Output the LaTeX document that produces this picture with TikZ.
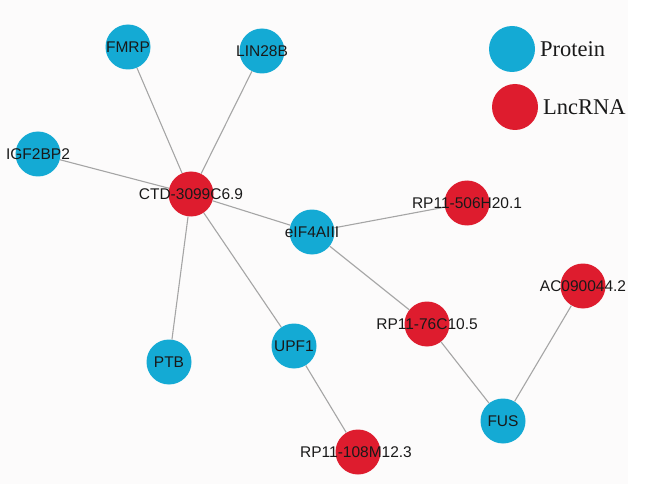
\documentclass[tikz,border=0pt]{standalone}
\usepackage{fontspec}
\setmainfont{Liberation Serif}
\setsansfont{Liberation Sans}
\begin{document}
\begin{tikzpicture}[x=1pt,y=-1pt,
  prot/.style={circle,fill=protblue,draw=none,minimum size=45pt,inner sep=0pt},
  lnc/.style={circle,fill=lncred,draw=none,minimum size=45pt,inner sep=0pt},
  lbl/.style={font=\sffamily\fontsize{15.5}{16}\selectfont,text=txtc,inner sep=0pt},
  legtxt/.style={font=\rmfamily\fontsize{22.5}{24}\selectfont,text=txtc,inner sep=0pt,anchor=west},
  edge/.style={draw=edgegray,line width=1.1pt}]
\definecolor{protblue}{RGB}{20,170,212}
\definecolor{lncred}{RGB}{222,28,46}
\definecolor{edgegray}{RGB}{165,165,165}
\definecolor{txtc}{RGB}{25,25,25}
\definecolor{bgc}{RGB}{252,251,251}
\useasboundingbox (0,0) rectangle (659,484);
\fill[white] (0,0) rectangle (659,484);
\fill[bgc] (0,0) rectangle (628,484);
% nodes
\node[prot] (fmrp) at (128,47) {};
\node[prot] (lin) at (262,51) {};
\node[prot] (igf) at (38,154) {};
\node[lnc] (ctd) at (191,194) {};
\node[prot] (eif) at (312,232) {};
\node[lnc] (r506) at (467,203) {};
\node[prot] (ptb) at (169,362) {};
\node[prot] (upf) at (294,346) {};
\node[lnc] (r108) at (358,452) {};
\node[lnc] (r76) at (427,324) {};
\node[lnc] (ac) at (583,286) {};
\node[prot] (fus) at (503,421) {};
% edges
\begin{scope}[on background layer/.style={}]
\end{scope}
\draw[edge] (fmrp) -- (ctd);
\draw[edge] (lin) -- (ctd);
\draw[edge] (igf) -- (ctd);
\draw[edge] (ctd) -- (eif);
\draw[edge] (ctd) -- (ptb);
\draw[edge] (ctd) -- (upf);
\draw[edge] (eif) -- (r506);
\draw[edge] (eif) -- (r76);
\draw[edge] (upf) -- (r108);
\draw[edge] (r76) -- (fus);
\draw[edge] (fus) -- (ac);
% labels
\node[lbl] (lfmrp) at (fmrp) {FMRP};
\node[lbl] (llin) at (lin) {LIN28B};
\node[lbl] (ligf) at (igf) {IGF2BP2};
\node[lbl] (lctd) at (ctd) {CTD-3099C6.9};
\node[lbl] (leif) at (eif) {eIF4AIII};
\node[lbl] (l506) at (r506) {RP11-506H20.1};
\node[lbl] (lptb) at (ptb) {PTB};
\node[lbl] (lupf) at (upf) {UPF1};
\node[lbl] (l108) at ([xshift=-2pt]r108) {RP11-108M12.3};
\node[lbl] (l76) at (r76) {RP11-76C10.5};
\node[lbl] (lac) at (ac) {AC090044.2};
\node[lbl] (lfus) at (fus) {FUS};
% legend
\node[prot,minimum size=46pt] (legp) at (512,49) {};
\node[lnc,minimum size=46pt] (legl) at (515,107) {};
\node[legtxt] (legpt) at (540,49) {Protein};
\node[legtxt] (leglt) at (543,107) {LncRNA};
\end{tikzpicture}
\end{document}
